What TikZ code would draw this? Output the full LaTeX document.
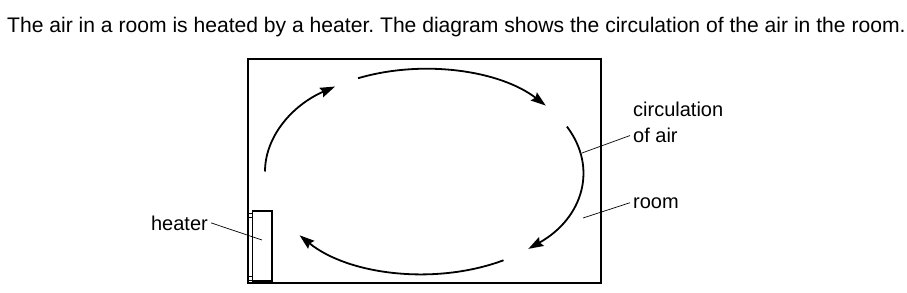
\documentclass[tikz,border=0pt]{standalone}
\usepackage{fontspec}
\setmainfont{Liberation Sans}
\usetikzlibrary{arrows.meta}
\frenchspacing

\begin{document}
\begin{tikzpicture}[x=1pt, y=1pt,
    label/.style={inner xsep=3pt, inner ysep=0pt, font=\fontsize{20}{24}\selectfont},
    wall/.style={line width=1.8pt},
    flow/.style={line width=1.8pt, -{Stealth[length=15pt, width=10pt, inset=2pt]}},
    leader/.style={line width=0.7pt}]
  \useasboundingbox (0,0) rectangle (907,292);
  %% Question text
  \node[label, inner xsep=0pt, font=\fontsize{21.1}{24}\selectfont, anchor=base west] (question) at (7,259.3)
    {The air in a room is heated by a heater. The diagram shows the circulation of the air in the room.};
  %% Room and heater
  \draw[wall] (248,9) rectangle (601,233);
  \draw[line width=1.5pt] (252.5,11) rectangle (272,81);
  \draw[line width=1pt] (248,75) rectangle (252.5,78.5);
  \draw[line width=1pt] (248,12) rectangle (252.5,15.5);
  %% Circulation of the air (four arcs of one ellipse)
  \coordinate (centre) at (424,120.5);
  \draw[flow] ([shift={(180:159 and 102.5)}]centre) arc[start angle=180, end angle=124, x radius=159, y radius=102.5];
  \draw[flow] ([shift={(114.5:159 and 102.5)}]centre) arc[start angle=114.5, end angle=40, x radius=159, y radius=102.5];
  \draw[flow] ([shift={(26:159 and 102.5)}]centre) arc[start angle=26, end angle=-49, x radius=159, y radius=102.5];
  \draw[flow] ([shift={(-60:159 and 102.5)}]centre) arc[start angle=-60, end angle=-141.5, x radius=159, y radius=102.5];
  %% Labels
  \node[label, anchor=base west] (circ) at (630,175.3) {circulation};
  \node[label, anchor=base west] (ofair) at (630,149.3) {of air};
  \node[label, anchor=base west] (roomlabel) at (630,84) {room};
  \node[label, anchor=base east] (heaterlabel) at (211,62) {heater};
  \coordinate (airpt) at (582,139);
  \coordinate (roompt) at (583,74);
  \coordinate (heaterpt) at (262,52);
  \draw[leader] (airpt) -- (ofair.west);
  \draw[leader] (roompt) -- (roomlabel.west);
  \draw[leader] (heaterlabel.east) -- (heaterpt);
\end{tikzpicture}
\end{document}
